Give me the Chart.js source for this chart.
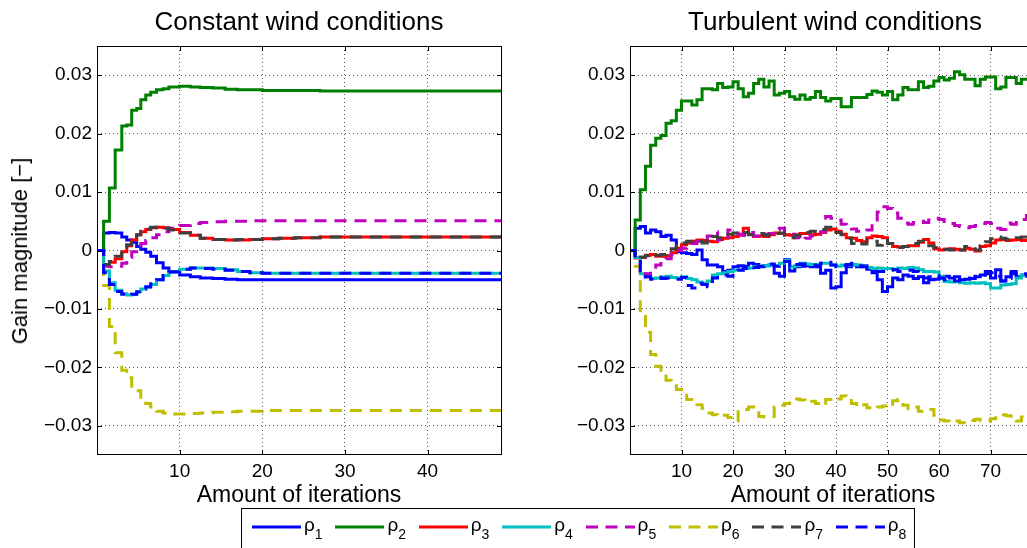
<!DOCTYPE html>
<html>
<head>
<meta charset="utf-8">
<script src="https://cdn.jsdelivr.net/npm/chart.js@4.4.1/dist/chart.umd.min.js"></script>
<style>
html,body{margin:0;padding:0;background:#fff;overflow:hidden;width:1027px;height:548px;}
body{position:relative;font-family:"Liberation Sans",Arial,sans-serif;color:#000;}
canvas{position:absolute;top:0;}
.t{position:absolute;white-space:nowrap;line-height:1;transform:translate(-50%,-50%);}
.title{font-size:26px;}
.xlab{font-size:23px;}
.ylab{font-size:22px;transform:translate(-50%,-50%) rotate(-90deg);}
#legend{position:absolute;left:241px;top:508px;width:672px;height:60px;border:1px solid #000;background:#fff;}
.item{position:absolute;top:0;height:40px;}
.item svg{position:absolute;left:0;top:13px;}
.item .rho{position:absolute;left:52px;top:6px;font-size:19px;line-height:19px;white-space:nowrap;}
.item .rho span{position:relative;top:8px;font-size:14px;}
</style>
</head>
<body>
<canvas id="constChart" width="520" height="548" style="left:0"></canvas>
<canvas id="turbChart" width="530" height="548" style="left:530px"></canvas>

<div class="t title" style="left:299px;top:21px">Constant wind conditions</div>
<div class="t title" style="left:835px;top:21px">Turbulent wind conditions</div>
<div class="t xlab" style="left:299px;top:494px">Amount of iterations</div>
<div class="t xlab" style="left:833px;top:494px">Amount of iterations</div>
<div class="t ylab" style="left:20px;top:251px">Gain magnitude [−]</div>
<div id="legend"></div>

<script>
// ====== DATA ======
const seriesNames = ['1','2','3','4','5','6','7','8'];
const seriesColors = ['#0000ff','#008000','#ff0000','#00bfbf','#bf00bf','#bfbf00','#404040','#0000ff'];
const seriesDashed = [false,false,false,false,true,true,true,true];

const yTicks = [-0.03,-0.02,-0.01,0,0.01,0.02,0.03];
const constTicks = [10,20,30,40];
const turbTicks = [10,20,30,40,50,60,70,80];

// constant wind: iteration positions (finer at the start)
const constIter = [0,0.8,1.5,2.2,3,3.6,4.2,4.8,5.3,5.9,6.5,7.2,8,8.7,10,11.3,12.5,14,15.5,17,18.5,20,22,24,27,30,35,40,45,49];
const const1 = [0,0.003,0.0031,0.003,0.0023,0.0018,0.0014,0.0007,0.0002,-0.0003,-0.001,-0.0021,-0.003,-0.0036,-0.0042,-0.0045,-0.0047,-0.0048,-0.0049,-0.005,-0.005,-0.005,-0.005,-0.005,-0.005,-0.005,-0.005,-0.005,-0.005,-0.005];
const const2 = [0,0.005,0.0107,0.0172,0.0213,0.0215,0.024,0.0243,0.0258,0.0266,0.0271,0.0275,0.0277,0.028,0.0281,0.028,0.0279,0.0278,0.0276,0.0275,0.0275,0.0274,0.0274,0.0274,0.0273,0.0273,0.0273,0.0273,0.0273,0.0273];
const const3 = [0,-0.0027,-0.002,-0.0014,-0.0002,0.0008,0.0018,0.0027,0.0032,0.0036,0.0039,0.004,0.0039,0.0036,0.0031,0.0026,0.0021,0.0019,0.0018,0.0018,0.0019,0.002,0.0021,0.0022,0.0023,0.0023,0.0023,0.0023,0.0023,0.0023];
const const4 = [0,-0.0035,-0.0055,-0.0068,-0.0074,-0.0076,-0.0075,-0.007,-0.0066,-0.0063,-0.0058,-0.005,-0.0043,-0.0037,-0.0032,-0.003,-0.003,-0.0031,-0.0033,-0.0036,-0.0038,-0.0039,-0.0039,-0.0039,-0.0039,-0.0039,-0.0039,-0.0039,-0.0039,-0.0039];
const const5 = [0,-0.0025,-0.0028,-0.0027,-0.0022,-0.0012,-0.0002,0.0006,0.0012,0.0017,0.0022,0.0027,0.0032,0.0038,0.0043,0.0046,0.0048,0.0049,0.005,0.005,0.0051,0.0051,0.0051,0.0051,0.0051,0.0051,0.0051,0.0051,0.0051,0.0051];
const const6 = [0,-0.006,-0.013,-0.0175,-0.0205,-0.0218,-0.0235,-0.024,-0.0255,-0.0262,-0.0268,-0.0275,-0.0278,-0.028,-0.028,-0.0279,-0.0278,-0.0277,-0.0276,-0.0275,-0.0275,-0.0274,-0.0274,-0.0274,-0.0274,-0.0274,-0.0274,-0.0274,-0.0274,-0.0274];
const const7 = [0,-0.0024,-0.0019,-0.001,0,0.001,0.0019,0.0027,0.0033,0.0037,0.004,0.0039,0.0038,0.0035,0.003,0.0026,0.0021,0.0019,0.0018,0.0019,0.0019,0.002,0.0021,0.0022,0.0023,0.0023,0.0023,0.0023,0.0023,0.0023];
const const8 = [0,-0.0038,-0.0058,-0.007,-0.0075,-0.0077,-0.0075,-0.0071,-0.0066,-0.0062,-0.0057,-0.005,-0.0043,-0.0037,-0.0032,-0.003,-0.0031,-0.0032,-0.0034,-0.0036,-0.0038,-0.0039,-0.0039,-0.0039,-0.0039,-0.0039,-0.0039,-0.0039,-0.0039,-0.0039];

// turbulent wind: one value per iteration 0..79
const turbIter = Array.from({length: 80}, (_, i) => i);
const turb1 = [0,0.0038,0.0041,0.003,0.0035,0.0032,0.0024,0.0026,0.0018,-0.0002,
  -0.0004,-0.0005,-0.0007,0.0001,-0.0016,-0.0025,-0.0025,-0.0028,-0.0036,-0.0034,
  -0.0028,-0.0026,-0.0027,-0.0022,-0.0024,-0.0028,-0.0026,-0.0025,-0.0039,-0.0044,
  -0.0016,-0.0035,-0.0028,-0.0027,-0.0026,-0.0028,-0.0028,-0.0039,-0.0034,-0.0064,
  -0.0062,-0.0038,-0.0028,-0.0025,-0.0028,-0.0026,-0.0032,-0.0038,-0.005,-0.007,
  -0.0062,-0.0047,-0.005,-0.0042,-0.0044,-0.0048,-0.0045,-0.0055,-0.005,-0.0049,
  -0.0047,-0.0044,-0.0047,-0.0045,-0.005,-0.0049,-0.0048,-0.0045,-0.0042,-0.0036,
  -0.0047,-0.0033,-0.0052,-0.0045,-0.0036,-0.0045,-0.0042,-0.0044,-0.0044,-0.0044];
const turb2 = [0,0.0052,0.0104,0.0144,0.018,0.0192,0.0197,0.0218,0.0222,0.024,
  0.0256,0.0256,0.0249,0.0258,0.0277,0.0277,0.0275,0.0286,0.0279,0.028,
  0.0289,0.0277,0.0263,0.0269,0.0286,0.0293,0.028,0.029,0.0266,0.0269,
  0.0272,0.0263,0.0259,0.0266,0.0259,0.0262,0.0272,0.0262,0.0256,0.026,
  0.026,0.0246,0.0246,0.0262,0.0262,0.0262,0.0267,0.0273,0.0271,0.0266,
  0.0272,0.0258,0.0266,0.0279,0.0275,0.0275,0.0289,0.0279,0.0281,0.029,
  0.0296,0.0292,0.0295,0.0306,0.0301,0.0293,0.0293,0.0282,0.0293,0.0297,
  0.0297,0.0277,0.028,0.0296,0.0296,0.0286,0.0293,0.0293,0.029,0.029];
const turb3 = [0,-0.0013,-0.0012,-0.0008,-0.0007,-0.001,-0.001,-0.0009,-0.0004,0.0004,
  0.001,0.0013,0.0016,0.0018,0.0017,0.0016,0.0015,0.0019,0.0021,0.0022,
  0.0024,0.0026,0.0038,0.0028,0.0024,0.0025,0.0024,0.0027,0.003,0.0029,
  0.0027,0.0026,0.0027,0.0029,0.0029,0.0027,0.0028,0.0031,0.0035,0.0037,
  0.0033,0.0028,0.0022,0.0021,0.0017,0.0015,0.0022,0.0025,0.0024,0.0022,
  0.0012,0.0007,0.0006,0.0007,0.0008,0.0008,0.0014,0.0019,0.0013,0.0003,
  0.0001,0.0002,0.0003,0.0002,0.0001,0.0004,0.0002,-0.0001,0.0007,0.0008,
  0.0013,0.0018,0.0019,0.0017,0.0018,0.0019,0.0017,0.0018,0.0018,0.0018];
const turb4 = [0,-0.0012,-0.004,-0.0045,-0.0048,-0.0047,-0.0045,-0.0044,-0.0046,-0.0047,
  -0.0045,-0.0048,-0.005,-0.0054,-0.0056,-0.0052,-0.0042,-0.004,-0.0038,-0.0036,
  -0.0034,-0.0033,-0.0031,-0.003,-0.0028,-0.0027,-0.0026,-0.0024,-0.0026,-0.0022,
  -0.0017,-0.0028,-0.0026,-0.0022,-0.0023,-0.0024,-0.0024,-0.0022,-0.0022,-0.0025,
  -0.0027,-0.0025,-0.0025,-0.0024,-0.0025,-0.0027,-0.0029,-0.0031,-0.003,-0.0031,
  -0.0031,-0.0032,-0.003,-0.0031,-0.0029,-0.003,-0.0033,-0.0036,-0.0036,-0.0037,
  -0.0045,-0.0053,-0.0054,-0.0053,-0.0055,-0.0056,-0.0055,-0.0056,-0.0055,-0.0057,
  -0.0064,-0.0064,-0.0059,-0.0058,-0.0057,-0.0047,-0.0042,-0.0042,-0.004,-0.004];
const turb5 = [0,-0.0015,-0.0045,-0.004,-0.0033,-0.0025,-0.0018,-0.0014,-0.0007,0,
  0.0004,0.0008,0.0012,0.0016,0.0015,0.0025,0.0032,0.0018,0.0022,0.0035,
  0.003,0.0028,0.0026,0.0031,0.0025,0.003,0.0028,0.0029,0.0036,0.0038,
  0.0031,0.0028,0.0022,0.0018,0.0021,0.0025,0.0028,0.0032,0.0058,0.0055,
  0.0052,0.0045,0.0041,0.0037,0.0033,0.0032,0.0035,0.0052,0.0066,0.0075,
  0.0072,0.0064,0.0055,0.0047,0.0045,0.0048,0.005,0.0048,0.0052,0.0055,
  0.0053,0.0047,0.0046,0.0043,0.0041,0.0039,0.0041,0.0043,0.0046,0.0048,
  0.0046,0.0038,0.0036,0.0047,0.0045,0.0048,0.0053,0.006,0.006,0.006];
const turb6 = [0,-0.0027,-0.011,-0.014,-0.0178,-0.0198,-0.0205,-0.0222,-0.0228,-0.0238,
  -0.0242,-0.0255,-0.0258,-0.0264,-0.027,-0.0278,-0.0281,-0.0284,-0.0282,-0.0286,
  -0.0292,-0.0276,-0.0272,-0.0268,-0.0275,-0.0284,-0.0285,-0.0284,-0.0268,-0.0265,
  -0.0262,-0.0258,-0.0254,-0.0256,-0.026,-0.0258,-0.0262,-0.0265,-0.0255,-0.0252,
  -0.0254,-0.0249,-0.0252,-0.0262,-0.0267,-0.0264,-0.0269,-0.0271,-0.0268,-0.0266,
  -0.0268,-0.0257,-0.0255,-0.0265,-0.0271,-0.0268,-0.0275,-0.0272,-0.0272,-0.0282,
  -0.029,-0.0292,-0.0294,-0.0292,-0.0295,-0.0295,-0.0291,-0.0289,-0.0292,-0.0292,
  -0.0288,-0.0283,-0.0281,-0.0283,-0.0288,-0.0292,-0.0285,-0.0288,-0.0288,-0.0288];
const turb7 = [0,-0.0015,-0.0011,-0.0009,-0.0006,-0.0008,-0.0007,-0.0002,0.0003,0.0009,
  0.0013,0.0016,0.0015,0.0016,0.0013,0.0017,0.0024,0.0022,0.0024,0.0028,
  0.003,0.0032,0.0031,0.0027,0.0028,0.0029,0.0026,0.0028,0.0029,0.003,
  0.0026,0.0022,0.0026,0.0029,0.0031,0.0033,0.0032,0.0036,0.004,0.0038,
  0.0031,0.0027,0.0021,0.0012,0.0009,0.0011,0.0018,0.0016,0.0009,0.0018,
  0.0012,0.0006,0.0005,0.0007,0.0011,0.0012,0.0016,0.0012,0.0008,0.0005,
  0.0003,0.0002,0.0001,0.0004,0.0001,0.0007,0.0003,0.0001,0.0008,0.0015,
  0.002,0.0023,0.0021,0.0019,0.002,0.0022,0.0023,0.0021,0.0021,0.0021];
const turb8 = [0,-0.0012,-0.0038,-0.0045,-0.0049,-0.0046,-0.0048,-0.0047,-0.0049,-0.0049,
  -0.0046,-0.006,-0.0064,-0.0056,-0.0058,-0.0062,-0.0047,-0.0043,-0.0042,-0.0044,
  -0.0036,-0.0034,-0.0031,-0.0028,-0.0029,-0.0027,-0.0025,-0.0023,-0.0027,-0.0025,
  -0.0019,-0.0028,-0.0024,-0.0023,-0.0024,-0.0025,-0.0026,-0.0022,-0.002,-0.0025,
  -0.0028,-0.0026,-0.0024,-0.0022,-0.0026,-0.0028,-0.0031,-0.0036,-0.0036,-0.0036,
  -0.0034,-0.0033,-0.0036,-0.0036,-0.0034,-0.0036,-0.0039,-0.0047,-0.0045,-0.0043,
  -0.0047,-0.005,-0.0048,-0.0052,-0.005,-0.0047,-0.0048,-0.0044,-0.0042,-0.004,
  -0.0038,-0.0044,-0.0052,-0.0048,-0.004,-0.0042,-0.004,-0.0042,-0.0042,-0.0042];

// ====== HELPERS ======
const tickFont = { family: 'Liberation Sans', size: 19 };

function buildDatasets(xs, rows){
  return rows.map((vals, k) => ({
    label: 'ρ' + seriesNames[k],
    data: xs.map((x, i) => ({ x: x, y: vals[i] })),
    borderColor: seriesColors[k],
    borderWidth: 3,
    borderDash: seriesDashed[k] ? [12, 8] : [],
    stepped: true,
    pointRadius: 0,
    fill: false,
    order: 7 - k   // later series on top
  }));
}

// box round the plot + inward tick marks
const framePlugin = {
  id: 'frame',
  afterDraw(chart){
    const { ctx, chartArea: a, scales } = chart;
    ctx.save();
    ctx.strokeStyle = '#000';
    ctx.lineWidth = 1;
    ctx.setLineDash([]);
    ctx.strokeRect(a.left + 0.5, a.top + 0.5, a.right - a.left - 1, a.bottom - a.top - 1);
    ctx.beginPath();
    scales.x.ticks.forEach(t => {
      const px = Math.round(scales.x.getPixelForValue(t.value)) + 0.5;
      ctx.moveTo(px, a.bottom); ctx.lineTo(px, a.bottom - 5);
      ctx.moveTo(px, a.top); ctx.lineTo(px, a.top + 5);
    });
    scales.y.ticks.forEach(t => {
      const py = Math.round(scales.y.getPixelForValue(t.value)) + 0.5;
      ctx.moveTo(a.left, py); ctx.lineTo(a.left + 5, py);
      ctx.moveTo(a.right, py); ctx.lineTo(a.right - 5, py);
    });
    ctx.stroke();
    ctx.restore();
  }
};

function panelOptions(xMax, xTicks, yWidth, padRight){
  return {
    responsive: false,
    animation: false,
    devicePixelRatio: 1,
    layout: { padding: { left: 0, right: padRight, top: 46, bottom: 53 } },
    plugins: { legend: { display: false }, tooltip: { enabled: false }, title: { display: false } },
    scales: {
      x: {
        type: 'linear', min: 0, max: xMax,
        afterBuildTicks: s => { s.ticks = xTicks.map(v => ({ value: v })); },
        afterFit: s => { s.height = 40; },
        grid: { color: '#555', drawTicks: false, lineWidth: 1 },
        border: { display: false, dash: [1, 3] },
        ticks: { color: '#000', font: tickFont, padding: 5, maxRotation: 0, autoSkip: false }
      },
      y: {
        type: 'linear', min: -0.035, max: 0.035,
        afterBuildTicks: s => { s.ticks = yTicks.map(v => ({ value: v })); },
        afterFit: s => { s.width = yWidth; },
        grid: { color: '#555', drawTicks: false, lineWidth: 1 },
        border: { display: false, dash: [1, 3] },
        ticks: {
          color: '#000', font: tickFont, padding: 5, autoSkip: false,
          callback: v => Math.abs(v) < 1e-9 ? '0' : (v < 0 ? '−' : '') + Math.abs(v).toFixed(2)
        }
      }
    }
  };
}

// ====== CHARTS ======
new Chart(document.getElementById('constChart'), {
  type: 'line',
  data: { datasets: buildDatasets(constIter, [const1,const2,const3,const4,const5,const6,const7,const8]) },
  options: panelOptions(49, constTicks, 97, 18),
  plugins: [framePlugin]
});

new Chart(document.getElementById('turbChart'), {
  type: 'line',
  data: { datasets: buildDatasets(turbIter, [turb1,turb2,turb3,turb4,turb5,turb6,turb7,turb8]) },
  options: panelOptions(80, turbTicks, 100, 18),
  plugins: [framePlugin]
});

// ====== LEGEND ======
const legend = document.getElementById('legend');
seriesNames.forEach((n, k) => {
  const item = document.createElement('div');
  item.className = 'item';
  item.style.left = (10 + k * 83.4) + 'px';
  const dash = seriesDashed[k] ? 'stroke-dasharray="12 7.5"' : '';
  item.innerHTML = `<svg width="50" height="10"><line x1="0" y1="5" x2="49" y2="5" stroke="${seriesColors[k]}" stroke-width="3" ${dash}/></svg>` +
    `<div class="rho">ρ<span>${n}</span></div>`;
  legend.appendChild(item);
});
</script>
</body>
</html>
